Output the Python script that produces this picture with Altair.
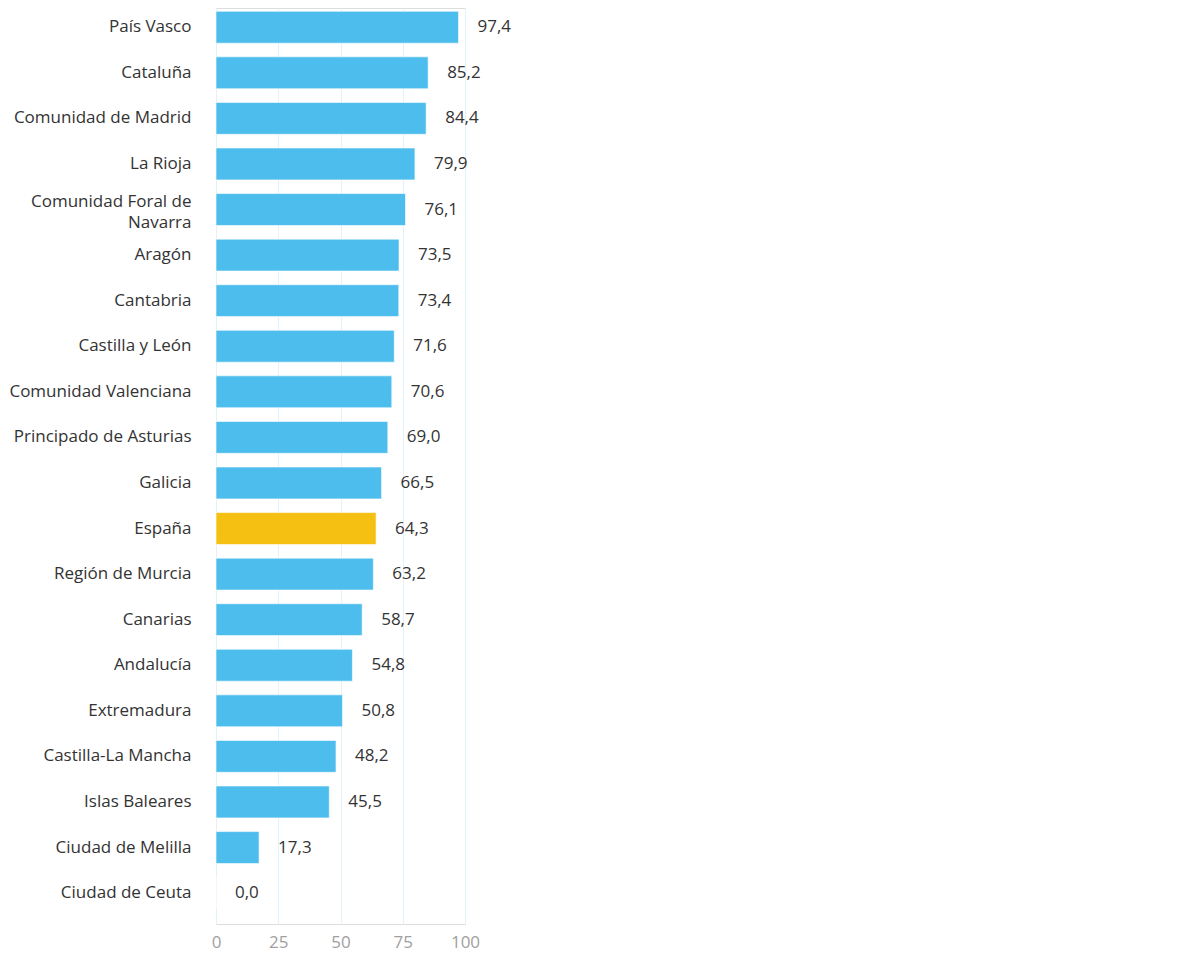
import altair as alt
import pandas as pd

regions = ["País Vasco", "Cataluña", "Comunidad de Madrid", "La Rioja",
           "Comunidad Foral de Navarra", "Aragón", "Cantabria", "Castilla y León",
           "Comunidad Valenciana", "Principado de Asturias", "Galicia", "España",
           "Región de Murcia", "Canarias", "Andalucía", "Extremadura",
           "Castilla-La Mancha", "Islas Baleares", "Ciudad de Melilla", "Ciudad de Ceuta"]
values = [97.4, 85.2, 84.4, 79.9, 76.1, 73.5, 73.4, 71.6, 70.6, 69.0, 66.5, 64.3,
          63.2, 58.7, 54.8, 50.8, 48.2, 45.5, 17.3, 0.0]
highlight = ["España"]

df = pd.DataFrame({"region": regions, "value": values})
df["group"] = ["hl" if r in highlight else "base" for r in regions]

FONT = "Open Sans"
WRAP = "Comunidad Foral de Navarra"

y_enc = alt.Y("region:N", sort=regions, title=None,
              scale=alt.Scale(paddingInner=0.3, paddingOuter=0.2, align=0.18),
              axis=alt.Axis(domain=False, ticks=False, labelPadding=25,
                            labelFontSize=17, labelColor="#333333", labelFont=FONT,
                            labelLimit=260, labelLineHeight=21,
                            labelOffset={"condition": {"test": f"datum.label == '{WRAP}'", "value": -8},
                                         "value": 0},
                            labelExpr=f"datum.label == '{WRAP}' ? ['Comunidad Foral de', 'Navarra'] : datum.label"))
x_enc = alt.X("value:Q", title=None,
              scale=alt.Scale(domain=[0, 100], nice=False),
              axis=alt.Axis(values=[0, 25, 50, 75, 100], domain=False, ticks=False,
                            grid=True, gridColor="#e3f1fa", gridWidth=1,
                            labelFontSize=17, labelColor="#a0a0a0", labelFont=FONT,
                            labelPadding=10, labelFlush=False))

bars = alt.Chart(df).mark_bar(stroke="#ffffff", strokeWidth=1, strokeOpacity=0.6).encode(
    y=y_enc, x=x_enc,
    color=alt.Color("group:N", scale=alt.Scale(domain=["base", "hl"],
                                               range=["#4dbdee", "#f5c012"]),
                    legend=None),
)

text = alt.Chart(df).transform_calculate(
    lbl="replace(format(datum.value, '.1f'), '.', ',')"
).mark_text(align="left", baseline="middle", dx=19, fontSize=17,
            color="#333333", font=FONT).encode(
    y=alt.Y("region:N", sort=regions),
    x=alt.X("value:Q"),
    text="lbl:N",
)

chart = (bars + text).properties(width=249, height=916).configure_view(
    stroke=None).configure(padding={"left": 0, "top": 0, "right": 5, "bottom": 5})

chart.save("out.html", embed_options={"renderer": "svg", "actions": False})
